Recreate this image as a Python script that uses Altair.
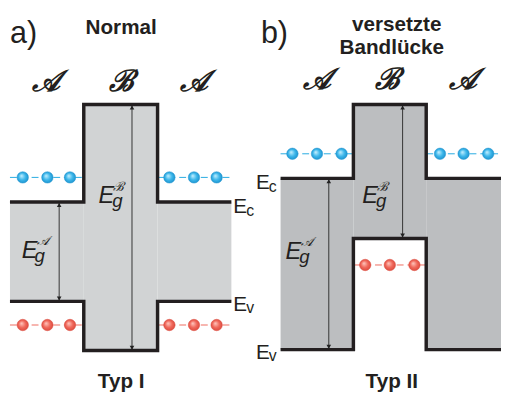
import altair as alt
import pandas as pd

# ---------------- data (positions in diagram units, energy upward) ----------------
panels = ["a", "b"]
x_edges = {"a": [10, 85, 160, 235], "b": [285, 359, 433, 509]}
Ec_A = {"a": 198, "b": 222}
Ev_A = {"a": 97, "b": 48}
Ec_B = {"a": 297, "b": 297}
Ev_B = {"a": 47, "b": 161}
fill_colors = {"a": "#d1d3d4", "b": "#bcbec0"}

electron_level = {"a": 223, "b": 247}
hole_level = {"a": 73, "b": 134}
electron_x = {"a": [23, 48, 71, 172, 197, 220], "b": [297, 322, 347, 447, 471, 496]}
hole_x = {"a": [23, 48, 71, 172, 197, 220], "b": [371, 396, 421]}

# arrows: x positions (gap of A, gap of B)
arrow_x = {"a": [60, 134], "b": [334, 409]}

# ---------------- derived tables ----------------
rects, paths, e_lines, h_lines, arrows, heads = [], [], [], [], [], []
for p in panels:
    x0, x1, x2, x3 = x_edges[p]
    rects += [
        dict(p=p, x=x0, x2=x1, y=Ev_A[p], y2=Ec_A[p]),
        dict(p=p, x=x1, x2=x2, y=Ev_B[p], y2=Ec_B[p]),
        dict(p=p, x=x2, x2=x3, y=Ev_A[p], y2=Ec_A[p]),
    ]
    for band, a_lvl, b_lvl in (("c", Ec_A[p], Ec_B[p]), ("v", Ev_A[p], Ev_B[p])):
        pts = [(x0, a_lvl), (x1, a_lvl), (x1, b_lvl), (x2, b_lvl), (x2, a_lvl), (x3, a_lvl)]
        for i, (xx, yy) in enumerate(pts):
            paths.append(dict(g=p + band, o=i, x=xx, y=yy))
    e_lines += [dict(x=x0, x2=x1, y=electron_level[p]), dict(x=x2, x2=x3, y=electron_level[p])]
    if p == "a":
        h_lines += [dict(x=x0, x2=x1, y=hole_level[p]), dict(x=x2, x2=x3, y=hole_level[p])]
    else:
        h_lines += [dict(x=x1, x2=x2, y=hole_level[p])]
    spans = [(Ev_A[p], Ec_A[p]), (Ev_B[p], Ec_B[p])]
    for ax, (lo, hi) in zip(arrow_x[p], spans):
        arrows.append(dict(x=ax, y=lo, y2=hi))
        heads.append(dict(x=ax, y=hi - 3, s="triangle-up"))
        heads.append(dict(x=ax, y=lo + 3, s="triangle-down"))

electrons = pd.DataFrame([dict(x=v, y=electron_level[p]) for p in panels for v in electron_x[p]])
holes = pd.DataFrame([dict(x=v, y=hole_level[p]) for p in panels for v in hole_x[p]])

X = alt.X("x:Q", scale=alt.Scale(domain=[8, 509], nice=False, zero=False), axis=None)
Y = alt.Y("y:Q", scale=alt.Scale(domain=[4, 392], nice=False, zero=False), axis=None)

SANS = "Liberation Sans"
SCRIPT = "DejaVu Serif"
INK = "#231f20"

layers = []

# band fills
rdf = pd.DataFrame(rects)
layers.append(
    alt.Chart(rdf).mark_rect(strokeWidth=0).encode(
        x=X, x2="x2:Q", y=Y, y2="y2:Q",
        color=alt.Color("p:N", scale=alt.Scale(domain=panels, range=[fill_colors[p] for p in panels]), legend=None),
    )
)

# dashed carrier levels
layers.append(alt.Chart(pd.DataFrame(e_lines)).mark_rule(color="#27aae1", strokeWidth=1, strokeDash=[7, 4]).encode(x=X, x2="x2:Q", y=Y))
layers.append(alt.Chart(pd.DataFrame(h_lines)).mark_rule(color="#ef6b5f", strokeWidth=1, strokeDash=[7, 4]).encode(x=X, x2="x2:Q", y=Y))

# arrows
layers.append(alt.Chart(pd.DataFrame(arrows)).mark_rule(color="#333333", strokeWidth=1).encode(x=X, y=Y, y2="y2:Q"))
layers.append(
    alt.Chart(pd.DataFrame(heads)).mark_point(filled=True, color="#222222", size=22, opacity=1).encode(
        x=X, y=Y, shape=alt.Shape("s:N", scale=None)
    )
)

# band edges
layers.append(
    alt.Chart(pd.DataFrame(paths)).mark_line(color=INK, strokeWidth=3.5, strokeJoin="miter", strokeCap="butt").encode(
        x=X, y=Y, detail="g:N", order="o:Q"
    )
)

blue_grad = alt.RadialGradient(
    gradient="radial", x1=0.38, y1=0.35, r1=0, x2=0.5, y2=0.5, r2=0.55,
    stops=[alt.GradientStop(color="#c9f1ff", offset=0), alt.GradientStop(color="#3bb6ea", offset=0.55),
           alt.GradientStop(color="#1a8fcb", offset=1)],
)
red_grad = alt.RadialGradient(
    gradient="radial", x1=0.38, y1=0.35, r1=0, x2=0.5, y2=0.5, r2=0.55,
    stops=[alt.GradientStop(color="#ffc9c0", offset=0), alt.GradientStop(color="#f0685b", offset=0.55),
           alt.GradientStop(color="#d9473b", offset=1)],
)
layers.append(alt.Chart(electrons).mark_point(shape="circle", filled=True, fill=blue_grad, stroke="#1f95cf", strokeWidth=0.5, size=135, opacity=1).encode(x=X, y=Y))
layers.append(alt.Chart(holes).mark_point(shape="circle", filled=True, fill=red_grad, stroke="#d9473b", strokeWidth=0.5, size=135, opacity=1).encode(x=X, y=Y))


def text_layer(rows, **mk):
    df = pd.DataFrame(rows, columns=["x", "y", "t"])
    return alt.Chart(df).mark_text(baseline="alphabetic", **mk).encode(x=X, y=Y, text="t:N")


# panel letters
layers.append(text_layer([(10, 360, "a)"), (265, 360, "b)")], align="left", font=SANS, fontSize=31, color=INK))
# titles
layers.append(text_layer([(123, 369, "Normal"), (403, 372, "versetzte"), (398, 348, "Bandlücke"),
                          (123, 9, "Typ I"), (398, 9, "Typ II")],
                         align="center", font=SANS, fontSize=21, fontWeight="bold", color=INK))
# region labels (script)
layers.append(text_layer([(47, 311, "𝒜"), (123, 311, "ℬ"), (197, 311, "𝒜"),
                          (322, 313, "𝒜"), (394, 313, "ℬ"), (470, 313, "𝒜")],
                         align="center", font=SCRIPT, fontSize=30, fontStyle="italic", fontWeight="bold", color=INK))
# band gap labels
layers.append(text_layer([(22, 141, "E"), (100, 197, "E"), (368, 197, "E"), (290, 140, "E")],
                         align="left", font=SANS, fontSize=24, fontStyle="italic", color=INK))
layers.append(text_layer([(35, 137, "g"), (114, 193, "g"), (382, 193, "g"), (304, 136, "g")],
                         align="left", font=SANS, fontSize=19, fontStyle="italic", color=INK))
layers.append(text_layer([(37, 154, "𝒜"), (115, 209, "ℬ"), (383, 209, "ℬ"), (306, 153, "𝒜")],
                         align="left", font=SCRIPT, fontSize=13, fontStyle="italic", color=INK))
# band edge labels
layers.append(text_layer([(237, 187, "E"), (237, 87, "E"), (260, 211, "E"), (260, 38, "E")],
                         align="left", font=SANS, fontSize=21, color=INK))
layers.append(text_layer([(250, 184, "c"), (250, 85, "v"), (273, 208, "c"), (273, 36, "v")],
                         align="left", font=SANS, fontSize=16, color=INK))

chart = (
    alt.layer(*layers)
    .properties(width=501, height=388, padding=0, autosize="none")
    .configure_view(stroke=None)
)

chart.save("out.html", embed_options={"renderer": "svg", "actions": False})
